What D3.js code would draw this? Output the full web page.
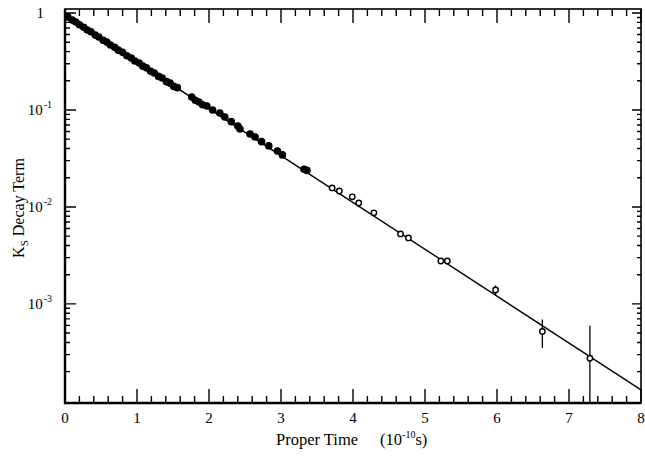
<!DOCTYPE html>
<html>
<head>
<meta charset="utf-8">
<script src="https://cdn.jsdelivr.net/npm/d3@7"></script>
</head>
<body style="margin:0">
<div id="chart"></div>
<script>
var margin = { top: 9, right: 4, bottom: 56, left: 65 },
	plotW = 645 - margin.left - margin.right,
	plotH = 459 - margin.top - margin.bottom;
var serif = "Liberation Serif, DejaVu Serif, serif";

// proper time (1e-10 s) and K_S decay term
var times = [0.04, 0.10, 0.15, 0.20, 0.26, 0.31, 0.36, 0.42, 0.47, 0.53, 0.58, 0.63, 0.69, 0.74,
	0.80, 0.86, 0.92, 0.97, 1.03, 1.08, 1.13, 1.19, 1.24, 1.30, 1.35, 1.41, 1.46, 1.51, 1.56,
	1.76, 1.81, 1.86, 1.91, 1.97, 2.05, 2.15, 2.22, 2.31, 2.40, 2.43, 2.57, 2.64, 2.73, 2.83,
	2.95, 3.02, 3.32, 3.36, 3.71, 3.81, 3.99, 4.08, 4.29, 4.66, 4.77, 5.22, 5.31, 5.98, 6.63, 7.29];
var decay = [0.912, 0.846, 0.807, 0.757, 0.714, 0.669, 0.640, 0.592, 0.566, 0.524, 0.501, 0.468, 0.444, 0.414,
	0.393, 0.362, 0.344, 0.320, 0.305, 0.283, 0.272, 0.251, 0.241, 0.222, 0.214, 0.196, 0.189, 0.175, 0.170,
	0.136, 0.126, 0.121, 0.113, 0.110, 0.100, 0.0931, 0.0847, 0.0758, 0.0684, 0.0637, 0.0566, 0.0527, 0.0471, 0.0426,
	0.0378, 0.0344, 0.0245, 0.0238, 0.0157, 0.0146, 0.0127, 0.0110, 0.0087, 0.00527, 0.00479, 0.00277, 0.00277, 0.00139, 0.00052, 0.000275];
var errors = [0.006, 0.006, 0.005, 0.005, 0.005, 0.005, 0.004, 0.004, 0.004, 0.004, 0.004, 0.004, 0.004, 0.004,
	0.003, 0.003, 0.003, 0.003, 0.003, 0.003, 0.003, 0.003, 0.003, 0.003, 0.003, 0.003, 0.002, 0.002, 0.002,
	0.002, 0.002, 0.002, 0.002, 0.002, 0.002, 0.0015, 0.0015, 0.0015, 0.0012, 0.0012, 0.0012, 0.001, 0.001, 0.001,
	0.0009, 0.0009, 0.0007, 0.0007, 0.0005, 0.0005, 0.0005, 0.0004, 0.0004, 0.0003, 0.0003, 0.00018, 0.00018, 0.00016, 0.00017, 0.00032];

// fitted exponential, drawn as a straight line on the log axis
var fitTimes = [0, 8];
var fitValues = [0.95, 0.00013];

var xMajor = [0, 1, 2, 3, 4, 5, 6, 7, 8];
var yMajor = [1e-3, 1e-2, 1e-1, 1];
var yExp = ["-3", "-2", "-1", ""];

var root = d3.select("#chart").append("svg").attr("width", 645).attr("height", 459);

var xs = d3.scaleLinear().domain([0, 8]).range([65, 641]);
var ys = d3.scaleLog().domain([0.95e-4, 1.1]).range([403, 9]);
var left = 65, right = 641, topY = 9, bottomY = 403;

var xMinor = d3.range(1, 40).map(function(i) { return i * 0.2; })
	.filter(function(d) { return Math.abs(d - Math.round(d)) > 1e-6; });
var yMinor = [];
[1e-4, 1e-3, 1e-2, 1e-1].forEach(function(dec) {
	for (var k = 2; k <= 9; k++) if (dec * k < 1.1) yMinor.push(dec * k);
});

root.append("rect").attr("x", left).attr("y", topY).attr("width", right - left).attr("height", bottomY - topY)
	.attr("fill", "none").attr("stroke", "#000").attr("stroke-width", 1.6);

// inward ticks along a horizontal edge (dir = -1 points up, +1 down)
function hTicks(yy, dir) {
	var p = d3.path();
	xMinor.forEach(function(d) { p.moveTo(xs(d), yy); p.lineTo(xs(d), yy + dir * 7); });
	xMajor.forEach(function(d) { p.moveTo(xs(d), yy); p.lineTo(xs(d), yy + dir * 14); });
	root.append("path").attr("d", p.toString()).attr("fill", "none").attr("stroke", "#000").attr("stroke-width", 1.4);
}
// inward ticks along a vertical edge
function vTicks(xx, dir, minorLen, majorLen) {
	var p = d3.path();
	yMinor.forEach(function(d) { p.moveTo(xx, ys(d)); p.lineTo(xx + dir * minorLen, ys(d)); });
	yMajor.forEach(function(d) { p.moveTo(xx, ys(d)); p.lineTo(xx + dir * majorLen, ys(d)); });
	root.append("path").attr("d", p.toString()).attr("fill", "none").attr("stroke", "#000").attr("stroke-width", 1.4);
}
hTicks(bottomY, -1);
hTicks(topY, 1);
vTicks(left, 1, 5, 11);
vTicks(right, -1, 4, 9);

// heavier left and bottom edges
root.append("path")
	.attr("d", "M" + left + "," + topY + "L" + left + "," + bottomY + "L" + right + "," + bottomY)
	.attr("fill", "none").attr("stroke", "#000").attr("stroke-width", 2.4);

// tick labels
root.selectAll(".xlab").data(xMajor).enter().append("text")
	.attr("class", "xlab")
	.attr("x", function(d) { return xs(d); })
	.attr("y", bottomY + 20)
	.attr("text-anchor", "middle")
	.attr("font-family", serif)
	.attr("font-size", 15)
	.text(function(d) { return d; });

var ylab = root.selectAll(".ylab").data(yMajor).enter().append("text")
	.attr("class", "ylab")
	.attr("x", function(d, i) { return left - (yExp[i] === "" ? 21 : 13); })
	.attr("y", function(d) { return ys(d) + 5; })
	.attr("text-anchor", "end")
	.attr("font-family", serif)
	.attr("font-size", 15);
ylab.append("tspan").text(function(d, i) { return yExp[i] === "" ? "1" : "10"; });
ylab.append("tspan").attr("dy", -7).attr("dx", 1).attr("font-size", 10)
	.text(function(d, i) { return yExp[i]; });

// fit line
var pts = times.map(function(t, i) { return { t: t, v: decay[i], e: errors[i] }; });
var fit = fitTimes.map(function(t, i) { return { t: t, v: fitValues[i] }; });
root.append("path").datum(fit)
	.attr("fill", "none").attr("stroke", "#000").attr("stroke-width", 1.4)
	.attr("d", d3.line().x(function(d) { return xs(d.t); }).y(function(d) { return ys(d.v); }));

// error bars and points
root.selectAll(".err").data(pts).enter().append("line")
	.attr("class", "err")
	.attr("x1", function(d) { return xs(d.t); })
	.attr("x2", function(d) { return xs(d.t); })
	.attr("y1", function(d) { return ys(Math.max(d.v - d.e, 0.95e-4)); })
	.attr("y2", function(d) { return ys(d.v + d.e); })
	.attr("stroke", "#000").attr("stroke-width", 1.3);

root.selectAll(".pt").data(pts).enter().append("circle")
	.attr("class", "pt")
	.attr("cx", function(d) { return xs(d.t); })
	.attr("cy", function(d) { return ys(d.v); })
	.attr("r", function(d) { return d.t < 3.4 ? 3.1 : 2.7; })
	.attr("fill", function(d) { return d.t < 3.4 ? "#000" : "#fff"; })
	.attr("stroke", "#000").attr("stroke-width", 1.4);

// axis titles
var yt = root.append("text")
	.attr("transform", "translate(" + (left - 41) + "," + ((topY + bottomY) / 2 + 2) + ") rotate(-90)")
	.attr("text-anchor", "middle")
	.attr("font-family", serif)
	.attr("font-size", 16);
yt.append("tspan").text("K");
yt.append("tspan").attr("dy", 4).attr("font-size", 11).text("S");
yt.append("tspan").attr("dy", -4).text(" Decay Term");

var xt = root.append("text")
	.attr("x", left + 211)
	.attr("y", bottomY + 42)
	.attr("font-family", serif)
	.attr("font-size", 16.5);
xt.append("tspan").text("Proper Time");
xt.append("tspan").attr("dx", 22).text("(10");
xt.append("tspan").attr("dy", -7).attr("font-size", 10).text("-10");
xt.append("tspan").attr("dy", 7).text("s)");
</script>
</body>
</html>
